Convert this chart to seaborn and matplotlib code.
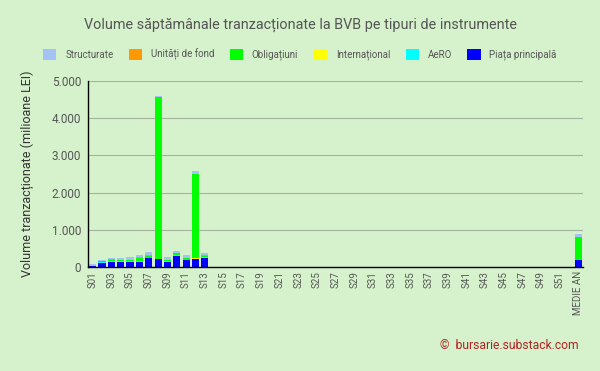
import numpy as np
import pandas as pd
import seaborn as sns
import matplotlib.pyplot as plt

sns.set_theme(style="white")
plt.rcParams['font.family'] = ['Roboto', 'DejaVu Sans']

weeks = ["S%02d" % i for i in range(1, 53)] + ["MEDIE AN"]
n_pad = 52 - 13

# values (milioane LEI), weeks S01..S13 then zero, last = MEDIE AN
piata = [20, 110, 140, 140, 140, 140, 230, 205, 140, 300, 180, 215, 250] + [0] * n_pad + [180]
aero = [5, 20, 10, 20, 10, 10, 15, 10, 10, 10, 15, 10, 10] + [0] * n_pad + [10]
internat = [0, 5, 20, 5, 5, 5, 5, 0, 5, 5, 5, 5, 20] + [0] * n_pad + [5]
oblig = [5, 25, 30, 30, 40, 100, 55, 4345, 40, 60, 50, 2270, 20] + [0] * n_pad + [620]
unitati = [0, 5, 5, 5, 5, 5, 5, 5, 5, 5, 5, 5, 10] + [0] * n_pad + [5]
struct = [40, 15, 45, 50, 75, 70, 80, 35, 75, 50, 75, 65, 55] + [0] * n_pad + [70]

series = [
    ("Piața principală", piata, "#0000FF"),
    ("AeRO", aero, "#00FFFF"),
    ("Internațional", internat, "#FFFF00"),
    ("Obligațiuni", oblig, "#00FF00"),
    ("Unități de fond", unitati, "#FF9900"),
    ("Structurate", struct, "#A4C2F4"),
]

bg = "#D6F2CC"
fig = plt.figure(figsize=(6, 3.71), dpi=100, facecolor=bg)
ax = fig.add_axes([0.1467, 0.2803, 0.825, 0.5014], facecolor=bg)

# cumulative sums, draw tallest first so lower layers sit on top
cum = np.cumsum(np.array([s[1] for s in series], dtype=float), axis=0)
for i in range(len(series) - 1, -1, -1):
    name, vals, col = series[i]
    df = pd.DataFrame({"week": weeks, "val": cum[i]})
    sns.barplot(data=df, x="week", y="val", color=col, width=0.76,
                saturation=1, ax=ax, linewidth=0, label=name)

ax.set_ylim(0, 5000)
ax.set_xlim(-0.5, len(weeks) - 0.5)
ax.set_yticks(range(0, 5001, 1000))
ax.set_yticklabels(["0", "1.000", "2.000", "3.000", "4.000", "5.000"])
ax.yaxis.grid(True, color="#a3b29d", linewidth=0.8)
ax.set_axisbelow(True)
ticks = list(range(0, len(weeks), 2))
ax.set_xticks(ticks)
ax.set_xticklabels([weeks[t] for t in ticks], rotation=90)
ax.tick_params(axis="x", labelsize=7, colors="#555555", length=0, pad=3)
ax.tick_params(axis="y", labelsize=8.5, colors="#555555", length=0, pad=5)
for sp in ["top", "right"]:
    ax.spines[sp].set_visible(False)
for sp in ["left", "bottom"]:
    ax.spines[sp].set_color("black")
    ax.spines[sp].set_linewidth(1)
ax.set_xlabel("")
ax.set_ylabel("Volume tranzacționate (milioane LEI)", fontsize=9, color="#333333", labelpad=13)

h, l = ax.get_legend_handles_labels()
if ax.get_legend():
    ax.get_legend().remove()
fig.legend(h, l, loc="center", bbox_to_anchor=(0.5, 0.853), ncol=6, frameon=False,
           fontsize=7, handlelength=1.35, handleheight=1.35, columnspacing=1.6,
           handletextpad=0.9, labelcolor="#555555")

fig.text(0.5, 0.932, "Volume săptămânale tranzacționate la BVB pe tipuri de instrumente",
         ha="center", va="center", fontsize=10.4, color="#555555")
fig.text(0.965, 0.07, "©  bursarie.substack.com", ha="right", va="center",
         fontsize=8.7, color="#B22222")

fig.savefig("out.png", dpi=100, facecolor=bg)
